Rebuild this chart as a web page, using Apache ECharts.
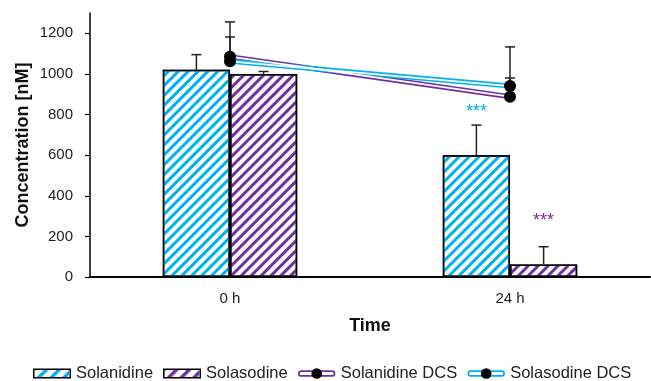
<!DOCTYPE html>
<html>
<head>
<meta charset="utf-8">
<script src="https://cdn.jsdelivr.net/npm/echarts@6/dist/echarts.min.js"></script>
<style>html,body{margin:0;padding:0;background:#fff;}#chart{width:651px;height:381px;}</style>
</head>
<body>
<div id="chart"></div>
<script>
// ---- data ----
const categories = ['0 h', '24 h'];
const solanidine = [1020, 600];
const solanidineErrTop = [1095, 748];
const solasodine = [1000, 62];
const solasodineErrTop = [1012, 149];
const solanidineDCS = [1085, 888];
const solanidineDCSErrTop = [1256, 1133];
const solasodineDCS = [1062, 940];
const solasodineDCSErrTop = [1182, 980];
const yTicks = [0, 200, 400, 600, 800, 1000, 1200];
const starCategory = [1, 1];
const starSeries = ['Solanidine', 'Solasodine'];
const starValues = [833, 297];
const starText = ['***', '***'];

const CYAN = '#00B0F0';
const PURPLE = '#7030A0';
const FONT = 'Liberation Sans, Arial, sans-serif';
const BAR_FRAC = 0.24;

function svgUrl(svg) {
  return 'image://data:image/svg+xml;charset=utf-8,' + encodeURIComponent(svg);
}
function hatchIcon(color) {
  return svgUrl("<svg xmlns='http://www.w3.org/2000/svg' width='38' height='11'><defs><pattern id='p' width='9' height='9' patternUnits='userSpaceOnUse' patternTransform='rotate(45)'><rect width='3.5' height='9' fill='" + color + "'/></pattern></defs><rect x='0.75' y='1.25' width='36.5' height='8.5' fill='white' stroke='black' stroke-width='1.5'/><rect x='1.5' y='2' width='35' height='7' fill='url(#p)'/></svg>");
}
function dcsIcon(color) {
  return svgUrl("<svg xmlns='http://www.w3.org/2000/svg' width='38' height='11'><line x1='3.5' y1='5.5' x2='34.5' y2='5.5' stroke='" + color + "' stroke-width='6.5' stroke-linecap='round'/><line x1='3.5' y1='5.5' x2='34.5' y2='5.5' stroke='white' stroke-width='3' stroke-linecap='round'/><circle cx='19' cy='5.5' r='5.3' fill='black'/></svg>");
}

const barOffsetSign = {'Solanidine': -1, 'Solasodine': 1};

// error bar data: [catIndex, base, top, offsetSign]
const errData = [];
for (let i = 0; i < categories.length; i++) {
  errData.push([i, solanidine[i], solanidineErrTop[i], -1]);
  errData.push([i, solasodine[i], solasodineErrTop[i], 1]);
  errData.push([i, solanidineDCS[i], solanidineDCSErrTop[i], 0]);
  errData.push([i, solasodineDCS[i], solasodineDCSErrTop[i], 0]);
}
const starData = starCategory.map((c, k) => [c, starValues[k], barOffsetSign[starSeries[k]], k]);

function errRender(params, api) {
  const cat = api.value(0);
  const p0 = api.coord([cat, api.value(1)]);
  const p1 = api.coord([cat, api.value(2)]);
  const bw = api.size([1, 0])[0];
  const x = p0[0] + api.value(3) * bw * BAR_FRAC / 2;
  const style = {stroke: '#222', lineWidth: 1.5};
  return {
    type: 'group',
    children: [
      {type: 'line', shape: {x1: x, y1: p0[1], x2: x, y2: p1[1]}, style: style},
      {type: 'line', shape: {x1: x - 5, y1: p1[1], x2: x + 5, y2: p1[1]}, style: style}
    ]
  };
}
function starRender(params, api) {
  const cat = api.value(0);
  const p = api.coord([cat, api.value(1)]);
  const bw = api.size([1, 0])[0];
  const x = p[0] + api.value(2) * bw * BAR_FRAC / 2;
  const k = api.value(3);
  return {
    type: 'text',
    x: x, y: p[1] + 4,
    style: {text: starText[k], fill: starSeries[k] === 'Solanidine' ? CYAN : PURPLE,
      font: '18px ' + FONT, align: 'center', verticalAlign: 'middle'}
  };
}

const chart = echarts.init(document.getElementById('chart'), null, {renderer: 'canvas'});
const hatch = (color) => ({
  symbol: 'rect', symbolSize: 1, color: color,
  dashArrayX: [1, 0], dashArrayY: [2.6, 3.6], rotation: -Math.PI / 4
});

chart.setOption({
  animation: false,
  backgroundColor: '#fff',
  textStyle: {fontFamily: FONT},
  grid: {left: 90, right: 1, top: 13, bottom: 104, containLabel: false},
  legend: {
    left: 28, top: 360, itemWidth: 38, itemHeight: 11, itemGap: 10,
    textStyle: {fontSize: 16.5, color: '#222', fontFamily: FONT},
    data: [
      {name: 'Solanidine', icon: hatchIcon(CYAN)},
      {name: 'Solasodine', icon: hatchIcon(PURPLE)},
      {name: 'Solanidine DCS', icon: dcsIcon(PURPLE)},
      {name: 'Solasodine DCS', icon: dcsIcon(CYAN)}
    ]
  },
  xAxis: {
    type: 'category', data: categories,
    name: 'Time', nameLocation: 'middle', nameGap: 40,
    nameTextStyle: {fontSize: 18, fontWeight: 'bold', color: '#111', fontFamily: FONT},
    axisLine: {lineStyle: {color: '#000', width: 2}},
    axisTick: {show: false},
    axisLabel: {fontSize: 15, color: '#222', margin: 14, fontFamily: FONT}
  },
  yAxis: {
    type: 'value', min: 0, max: 1300,
    name: 'Concentration [nM]', nameLocation: 'middle', nameGap: 58, nameMoveOverlap: false,
    nameTextStyle: {fontSize: 18, fontWeight: 'bold', color: '#111', fontFamily: FONT},
    axisLine: {show: true, lineStyle: {color: '#000', width: 1.5}},
    axisTick: {show: true, length: 5, lineStyle: {color: '#000', width: 1.2}, customValues: yTicks},
    axisLabel: {fontSize: 15, color: '#222', margin: 17, fontFamily: FONT, customValues: yTicks,
      formatter: (v) => String(v)},
    splitLine: {show: false}
  },
  series: [
    {name: 'Solanidine', type: 'bar', data: solanidine, barWidth: (BAR_FRAC * 100) + '%', barGap: '0%', z: 2,
      itemStyle: {color: '#fff', borderColor: '#000', borderWidth: 1.5, decal: hatch(CYAN)}},
    {name: 'Solasodine', type: 'bar', data: solasodine, barWidth: (BAR_FRAC * 100) + '%', barGap: '0%', z: 2,
      itemStyle: {color: '#fff', borderColor: '#000', borderWidth: 1.5, decal: hatch(PURPLE)}},
    {name: 'errbars', type: 'custom', data: errData, renderItem: errRender, z: 3, silent: true,
      encode: {x: 0, y: [1, 2]}},
    {name: 'Solanidine DCS', type: 'line', data: solanidineDCS, symbol: 'none', z: 4,
      lineStyle: {color: PURPLE, width: 5}, itemStyle: {color: PURPLE}},
    {name: 'Solasodine DCS', type: 'line', data: solasodineDCS, symbol: 'none', z: 4,
      lineStyle: {color: CYAN, width: 5}, itemStyle: {color: CYAN}},
    {name: 'core1', type: 'line', data: solanidineDCS, symbol: 'none', z: 5, silent: true,
      lineStyle: {color: '#fff', width: 1.8}},
    {name: 'core2', type: 'line', data: solasodineDCS, symbol: 'none', z: 5, silent: true,
      lineStyle: {color: '#fff', width: 1.8}},
    {name: 'dots1', type: 'scatter', data: solanidineDCS, symbol: 'circle', symbolSize: 12, z: 6,
      itemStyle: {color: '#000', opacity: 1}},
    {name: 'dots2', type: 'scatter', data: solasodineDCS, symbol: 'circle', symbolSize: 12, z: 6,
      itemStyle: {color: '#000', opacity: 1}},
    {name: 'stars', type: 'custom', data: starData, renderItem: starRender, z: 7, silent: true,
      encode: {x: 0, y: 1}}
  ]
});
</script>
</body>
</html>
